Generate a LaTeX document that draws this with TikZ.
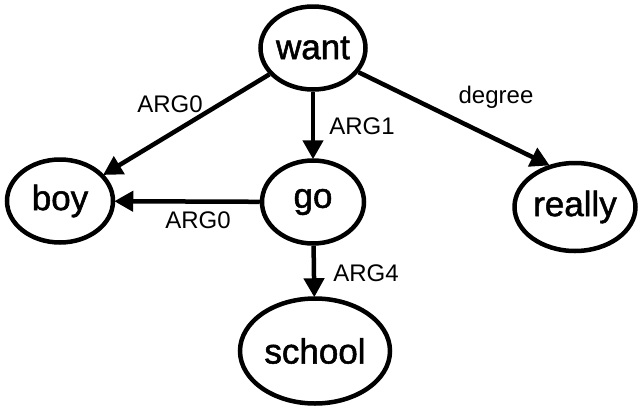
\documentclass[tikz,border=0pt]{standalone}
\usepackage{fontspec}
\setmainfont{Liberation Sans}
\newfontfamily\nodefont[FakeBold=1.5]{Liberation Sans}
\usetikzlibrary{shapes.geometric,arrows.meta}
\tikzset{
  ent/.style={ellipse, draw=black, line width=4.5pt, inner sep=0pt, font=\nodefont\fontsize{35}{38}\selectfont},
  rel/.style={line width=4.5pt, -{Triangle[length=19pt,width=20pt]}, shorten >=-1pt},
  lab/.style={font=\fontsize{24}{27}\selectfont, inner sep=0pt}
}
\begin{document}
\begin{tikzpicture}[x=1pt,y=-1pt]
\useasboundingbox (0,0) rectangle (640,410);
\node[ent, minimum width=105pt, minimum height=83pt] (want) at (313,48) {want};
\node[ent, minimum width=106pt, minimum height=83pt] (boy) at (60,201) {boy};
\node[ent, minimum width=102pt, minimum height=83pt] (go) at (313,202) {go};
\node[ent, minimum width=121pt, minimum height=88pt] (really) at (575,207) {really};
\node[ent, minimum width=150pt, minimum height=105pt] (school) at (315,351) {school};
\draw[rel] (want) -- (boy);
\draw[rel] (want) -- (go);
\draw[rel] (want.-28) -- (really.122);
\draw[rel] (go) -- (boy);
\draw[rel] (go) -- (school);
\node[lab] (l1) at (170,104) {ARG0};
\node[lab] (l2) at (362,126) {ARG1};
\node[lab] (l3) at (496,97) {degree};
\node[lab] (l4) at (198,220) {ARG0};
\node[lab] (l5) at (366,273) {ARG4};
\end{tikzpicture}
\end{document}
